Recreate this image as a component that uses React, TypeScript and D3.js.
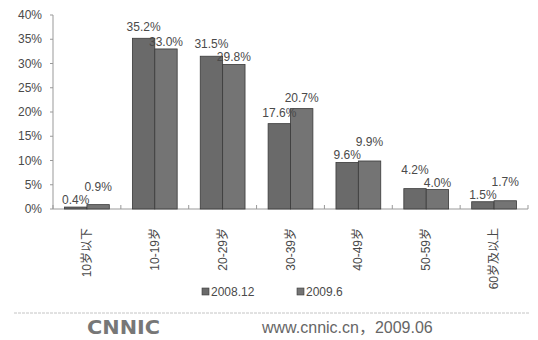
import React from "react";
import * as d3 from "d3";

const categories = ["10岁以下", "10-19岁", "20-29岁", "30-39岁", "40-49岁", "50-59岁", "60岁及以上"];
const seriesNames = ["2008.12", "2009.6"];
const values2008 = [0.4, 35.2, 31.5, 17.6, 9.6, 4.2, 1.5];
const values2009 = [0.9, 33.0, 29.8, 20.7, 9.9, 4.0, 1.7];
const yTicks = [0, 5, 10, 15, 20, 25, 30, 35, 40];
const footerText = "www.cnnic.cn，2009.06";
const logoText = "CNNIC";

const W = 538;
const H = 340;
const colors = ["#6a6a6a", "#747474"];
const textColor = "#4a4a4a";
const font = "'Liberation Sans', Arial, 'Noto Sans CJK SC', sans-serif";

export default function App() {
  const x = d3.scaleBand<string>().domain(categories).range([53, 528]).paddingInner(0.34).paddingOuter(0.17);
  const x1 = d3.scaleBand<string>().domain(seriesNames).range([0, x.bandwidth()]);
  const y = d3.scaleLinear().domain([0, 40]).range([209, 15]);
  const series = [values2008, values2009];
  const step = x.step();

  // label layout: stagger labels of close pairs
  const labelY = categories.map((_, i) => {
    const t0 = y(values2008[i]);
    const t1 = y(values2009[i]);
    let b0 = t0 - 7;
    let b1 = t1 - 7;
    if (Math.abs(b0 - b1) < 13) {
      if (values2008[i] >= values2009[i]) {
        b1 = Math.max(b1, t1 - 3);
        b0 = Math.min(b0, b1 - 13);
      } else {
        b0 = Math.max(b0, t0 - 3);
        b1 = Math.min(b1, b0 - 13);
      }
    }
    return [b0, b1];
  });

  return (
    <svg width={W} height={H} style={{ position: "absolute", left: 0, top: 0, background: "#fff" }} fontFamily={font}>
      <rect x={0} y={0} width={W} height={H} fill="#fff" />
      {/* y axis */}
      <line x1={53} x2={53} y1={y(40)} y2={y(0)} stroke="#999" strokeWidth={1} />
      {yTicks.map((t) => (
        <g key={t}>
          <line x1={50} x2={53} y1={y(t)} y2={y(t)} stroke="#999" />
          <text x={42} y={y(t)} dy="0.35em" textAnchor="end" fontSize={12} fill={textColor}>
            {t}%
          </text>
        </g>
      ))}
      {/* x axis */}
      <line x1={53} x2={528} y1={y(0)} y2={y(0)} stroke="#999" strokeWidth={1} />
      {d3.range(categories.length + 1).map((i) => (
        <line key={i} x1={53 + i * step} x2={53 + i * step} y1={y(0)} y2={y(0) - 4} stroke="#999" />
      ))}
      {/* bars */}
      {categories.map((c, i) => (
        <g key={c}>
          {series.map((vals, s) => (
            <rect
              key={s}
              x={(x(c) as number) + (x1(seriesNames[s]) as number)}
              y={y(vals[i])}
              width={x1.bandwidth()}
              height={y(0) - y(vals[i])}
              fill={colors[s]}
              stroke="#3a3a3a"
              strokeWidth={0.8}
            />
          ))}
          {series.map((vals, s) => (
            <text
              key={"l" + s}
              x={(x(c) as number) + (x1(seriesNames[s]) as number) + x1.bandwidth() / 2}
              y={labelY[i][s]}
              textAnchor="middle"
              fontSize={12}
              fill={textColor}
            >
              {vals[i].toFixed(1)}%
            </text>
          ))}
          <text
            transform={`translate(${(x(c) as number) + x.bandwidth() / 2},228) rotate(-90)`}
            textAnchor="end"
            dominantBaseline="central"
            fontSize={12}
            fill={textColor}
          >
            {c}
          </text>
        </g>
      ))}
      {/* legend */}
      {seriesNames.map((n, s) => {
        const lx = s === 0 ? 202 : 297;
        return (
          <g key={n}>
            <rect x={lx} y={288} width={7} height={7} fill={colors[s]} stroke="#3a3a3a" strokeWidth={0.6} />
            <text x={lx + 9} y={292} dy="0.35em" fontSize={12} fill={textColor}>
              {n}
            </text>
          </g>
        );
      })}
      {/* separator */}
      <line x1={14} x2={530} y1={313} y2={313} stroke="#c4c4c4" strokeWidth={1} strokeDasharray="3,1" />
      {/* footer */}
      <text
        x={87}
        y={334}
        fontSize={20}
        fontWeight="bold"
        fill="#777"
        textLength={73}
        lengthAdjust="spacingAndGlyphs"
        fontFamily="'DejaVu Sans', sans-serif"
      >
        {logoText}
      </text>
      <text x={262} y={333} fontSize={16} fill="#666" fontFamily="'Liberation Sans', 'Noto Sans CJK SC', sans-serif">
        {footerText}
      </text>
    </svg>
  );
}
